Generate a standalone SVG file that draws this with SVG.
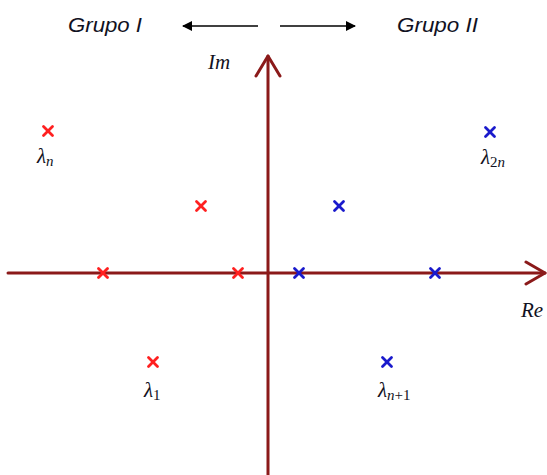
<svg xmlns="http://www.w3.org/2000/svg" width="547" height="475" viewBox="0 0 547 475">
<style>
.axis{stroke:#8b1a1a;stroke-width:3;fill:none;stroke-linecap:round;stroke-linejoin:round}
.r{stroke:#ff2020;stroke-width:2.8;stroke-linecap:round}
.b{stroke:#1a1acc;stroke-width:2.8;stroke-linecap:round}
.grp{font-family:"Liberation Sans",sans-serif;font-style:italic;font-size:20px;fill:#111122}
.m{font-family:"Liberation Serif",serif;font-style:italic;font-size:21px;fill:#111122}
.sub{font-size:15px}
.up{font-style:normal}
.arr{stroke:#000;stroke-width:1.6}
</style>
<defs>
<marker id="ah" viewBox="0 0 10 10" refX="9" refY="5" markerWidth="10" markerHeight="10" markerUnits="userSpaceOnUse" orient="auto">
<path d="M0,0 L10,5 L0,10 z" fill="#000"/>
</marker>
<g id="x"><line x1="-4.5" y1="-4.5" x2="4.5" y2="4.5"/><line x1="-4.5" y1="4.5" x2="4.5" y2="-4.5"/></g>
</defs>
<g id="connectors">
<line class="arr" x1="258" y1="26" x2="183" y2="26" marker-end="url(#ah)"/>
<line class="arr" x1="280" y1="26" x2="355" y2="26" marker-end="url(#ah)"/>
</g>
<g id="axes">
<line class="axis" x1="268" y1="475" x2="268" y2="56"/>
<path class="axis" d="M256,76 L268,56 L280,76"/>
<line class="axis" x1="8" y1="273" x2="545" y2="273"/>
<path class="axis" d="M526,262 L545,273 L526,284"/>
</g>
<g id="labels">
<text class="grp" x="68" y="32" textLength="74" lengthAdjust="spacingAndGlyphs">Grupo I</text>
<text class="grp" x="397" y="32" textLength="81" lengthAdjust="spacingAndGlyphs">Grupo II</text>
<text class="m" x="208" y="69">Im</text>
<text class="m" x="521" y="317">Re</text>
</g>
<g id="red-poles" class="r">
<use href="#x" x="48" y="131"/>
<use href="#x" x="201" y="206"/>
<use href="#x" x="103" y="273"/>
<use href="#x" x="238" y="273"/>
<use href="#x" x="153" y="362"/>
</g>
<g id="blue-poles" class="b">
<use href="#x" x="490" y="132"/>
<use href="#x" x="339" y="206"/>
<use href="#x" x="299" y="273"/>
<use href="#x" x="435" y="273"/>
<use href="#x" x="387" y="362"/>
</g>
<g id="pole-labels">
<text class="m" x="37" y="163">λ<tspan class="sub" dy="3">n</tspan></text>
<text class="m" x="481" y="164">λ<tspan class="sub up" dy="3">2</tspan><tspan class="sub">n</tspan></text>
<text class="m" x="144" y="397">λ<tspan class="sub up" dy="3">1</tspan></text>
<text class="m" x="378" y="397">λ<tspan class="sub" dy="3">n</tspan><tspan class="sub up">+1</tspan></text>
</g>
</svg>
